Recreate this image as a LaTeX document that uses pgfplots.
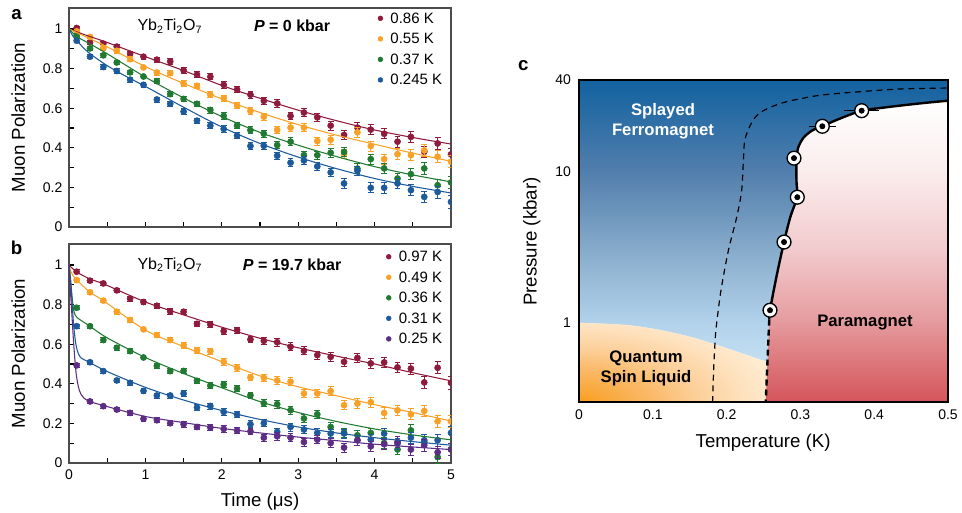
\documentclass[border=0pt]{standalone}
\usepackage{fontspec}
\setmainfont{Liberation Sans}
\usepackage{pgfplots}
\usepackage{pgfplotstable}
\pgfplotsset{compat=1.18}

\definecolor{cR}{HTML}{8E1A3C}
\definecolor{cO}{HTML}{F8A126}
\definecolor{cG}{HTML}{217A32}
\definecolor{cB}{HTML}{1D5A9B}
\definecolor{cP}{HTML}{5D2C85}
\definecolor{b0}{HTML}{D2EAF8}
\definecolor{b1}{HTML}{B2D2EB}
\definecolor{b2}{HTML}{87ABCB}
\definecolor{b3}{HTML}{517EAC}
\definecolor{b4}{HTML}{1262A0}
\definecolor{r0}{HTML}{D4555A}
\definecolor{r1}{HTML}{E59B9E}
\definecolor{r2}{HTML}{F2CACD}
\definecolor{r3}{HTML}{FBEDED}
\definecolor{r4}{HTML}{FFFFFF}
\definecolor{q0}{HTML}{F89E18}
\definecolor{q1}{HTML}{F9A83A}
\definecolor{q2}{HTML}{FAB866}
\definecolor{q3}{HTML}{FCCF98}
\definecolor{q4}{HTML}{FEE1BD}
\definecolor{q5}{HTML}{FFEFD8}
\definecolor{q6}{HTML}{FFF8EC}
\pgfdeclareradialshading{qsl}{\pgfpointorigin}{color(0bp)=(q0); color(2.5bp)=(q1); color(6.75bp)=(q2); color(11.25bp)=(q3); color(15.75bp)=(q4); color(20.5bp)=(q5); color(25bp)=(q6); color(50bp)=(q6)}

\pgfplotstableread{
t r o g b e
0.100 1.005 0.988 0.966 0.941 0.010
0.275 0.933 0.960 0.902 0.860 0.010
0.450 0.926 0.904 0.867 0.808 0.011
0.625 0.911 0.890 0.831 0.788 0.011
0.800 0.874 0.848 0.781 0.744 0.012
0.975 0.860 0.806 0.760 0.718 0.012
1.150 0.845 0.780 0.737 0.644 0.013
1.325 0.836 0.777 0.671 0.622 0.013
1.500 0.791 0.725 0.647 0.583 0.014
1.675 0.770 0.713 0.622 0.537 0.014
1.850 0.759 0.668 0.591 0.512 0.015
2.025 0.718 0.651 0.561 0.495 0.016
2.200 0.694 0.613 0.512 0.461 0.016
2.375 0.668 0.586 0.489 0.409 0.017
2.550 0.637 0.557 0.471 0.410 0.018
2.725 0.624 0.490 0.414 0.360 0.019
2.900 0.561 0.502 0.431 0.325 0.020
3.075 0.578 0.502 0.363 0.336 0.020
3.250 0.554 0.434 0.363 0.306 0.021
3.425 0.512 0.441 0.375 0.276 0.022
3.600 0.465 0.368 0.379 0.220 0.023
3.775 0.502 0.478 0.295 0.284 0.024
3.950 0.492 0.409 0.343 0.198 0.025
4.125 0.471 0.343 0.296 0.198 0.026
4.300 0.431 0.368 0.245 0.220 0.027
4.475 0.455 0.363 0.267 0.186 0.028
4.650 0.380 0.387 0.296 0.152 0.029
4.825 0.422 0.355 0.211 0.177 0.030
5.000 0.367 0.330 0.225 0.127 0.031
}\tabA

\pgfplotstableread{
t r o g b p e
0.100 0.966 0.924 0.784 0.691 0.493 0.010
0.275 0.921 0.862 0.691 0.509 0.311 0.010
0.450 0.907 0.820 0.621 0.464 0.287 0.011
0.625 0.872 0.764 0.582 0.417 0.270 0.011
0.800 0.830 0.722 0.565 0.405 0.253 0.012
0.975 0.813 0.675 0.533 0.364 0.223 0.012
1.150 0.794 0.646 0.491 0.341 0.216 0.013
1.325 0.766 0.621 0.464 0.341 0.201 0.013
1.500 0.764 0.594 0.465 0.351 0.196 0.014
1.675 0.703 0.569 0.415 0.280 0.182 0.014
1.850 0.700 0.565 0.391 0.288 0.179 0.015
2.025 0.666 0.511 0.397 0.258 0.172 0.016
2.200 0.671 0.481 0.376 0.245 0.164 0.016
2.375 0.624 0.432 0.342 0.196 0.160 0.017
2.550 0.617 0.430 0.302 0.201 0.128 0.018
2.725 0.610 0.417 0.297 0.157 0.135 0.019
2.900 0.587 0.411 0.267 0.182 0.128 0.020
3.075 0.567 0.351 0.225 0.169 0.106 0.020
3.250 0.545 0.351 0.246 0.152 0.118 0.021
3.425 0.536 0.363 0.182 0.149 0.101 0.022
3.600 0.511 0.292 0.154 0.149 0.078 0.023
3.775 0.531 0.300 0.140 0.115 0.115 0.024
3.950 0.503 0.307 0.152 0.118 0.084 0.025
4.125 0.508 0.253 0.101 0.149 0.095 0.026
4.300 0.483 0.266 0.068 0.098 0.106 0.027
4.475 0.477 0.246 0.165 0.128 0.068 0.028
4.650 0.407 0.263 0.106 0.115 0.090 0.029
4.825 0.481 0.211 0.030 0.115 0.054 0.030
5.000 0.405 0.210 0.070 0.152 0.068 0.031
}\tabB

\pgfplotstableread{
T P Te
0.2588 1.21 0.0055
0.2778 3.41 0.0055
0.2958 6.74 0.0055
0.2913 12.2 0.0055
0.3297 19.8 0.0147
0.3830 25.1 0.020
}\tabC

\pgfplotsset{
  muon/.style={anchor=south west, width=286.5pt, height=164.25pt, scale only axis,
    xmin=0, xmax=5, ymin=0, ymax=1.106,
    xtick={0,1,2,3,4,5}, minor xtick={0.5,1.5,2.5,3.5,4.5},
    ytick={0,0.2,0.4,0.6,0.8,1}, minor ytick={0.1,0.3,0.5,0.7,0.9},
    tick align=inside, xtick pos=bottom, ytick pos=left,
    major tick length=4pt, minor tick length=4pt,
    axis line style={draw=black!70, line width=1.1pt},
    tick style={black, line width=0.8pt},
    clip marker paths=true,
    /pgf/number format/assume math mode=true,
    tick label style={font=\fontsize{10.5}{12}\selectfont},
    yticklabel style={xshift=-1.5pt},
    xticklabel style={yshift=-1.5pt},
    label style={font=\fontsize{14}{16}\selectfont},
    ylabel style={at={(axis description cs:-0.133,0.5)}, anchor=center},
    legend style={draw=none, fill=none, inner sep=0pt, outer sep=0pt,
      font=\fontsize{11.25}{13}\selectfont, row sep=3.2pt,
      nodes={inner sep=1.5pt, text height=8.2pt, text depth=1pt},
      legend cell align=left},
  },
  pts/.style={only marks, mark=*, mark size=2.3pt, forget plot,
    error bars/y dir=both, error bars/y explicit,
    error bars/error bar style={line width=0.6pt},
    error bars/error mark options={rotate=90, mark size=2.2pt, line width=0.6pt}},
  fitl/.style={line width=0.8pt, smooth, no markers, forget plot},
  legdot/.style={only marks, mark=*, mark size=1.8pt,
    legend image code/.code={\draw[##1] plot coordinates {(0pt,0pt)}; \path[draw=none, fill=none] (-2pt,0pt) rectangle (6pt,0.1pt);}},
}

\begin{document}
\begin{tikzpicture}
\useasboundingbox (0,0) rectangle (721.5pt,-384pt);

% ---------------- panel a ----------------
\begin{axis}[muon, at={(51.75pt,-170.25pt)}, xticklabels={},
  ylabel={Muon Polarization},
  legend style={at={(0.982,0.99)}, anchor=north east}]
\addplot[color=cR, pts] table[x=t, y=r, y error=e] {\tabA};
\addplot[color=cO, pts] table[x=t, y=o, y error=e] {\tabA};
\addplot[color=cG, pts] table[x=t, y=g, y error=e] {\tabA};
\addplot[color=cB, pts] table[x=t, y=b, y error=e] {\tabA};
\addplot[color=cR, fitl] coordinates {(0,1)(0.25,0.965)(0.5,0.932)(1,0.86)(1.5,0.79)(2,0.715)(2.5,0.65)(3,0.59)(3.5,0.537)(4,0.49)(4.5,0.452)(5,0.419)};
\addplot[color=cO, fitl] coordinates {(0,1)(0.25,0.955)(0.5,0.91)(1,0.81)(1.5,0.725)(2,0.647)(2.5,0.578)(3,0.517)(3.5,0.464)(4,0.418)(4.5,0.373)(5,0.332)};
\addplot[color=cG, fitl] coordinates {(0,1)(0.1,0.962)(0.25,0.93)(0.5,0.875)(1,0.757)(1.5,0.652)(2,0.558)(2.5,0.478)(3,0.413)(3.5,0.356)(4,0.305)(4.5,0.263)(5,0.228)};
\addplot[color=cB, fitl] coordinates {(0,1)(0.05,0.965)(0.1,0.942)(0.25,0.883)(0.5,0.815)(0.75,0.76)(1,0.71)(1.5,0.605)(2,0.505)(2.5,0.422)(3,0.353)(3.5,0.295)(4,0.245)(4.5,0.205)(5,0.172)};
\addlegendimage{legdot, color=cR}\addlegendentry{0.86 K}
\addlegendimage{legdot, color=cO}\addlegendentry{0.55 K}
\addlegendimage{legdot, color=cG}\addlegendentry{0.37 K}
\addlegendimage{legdot, color=cB}\addlegendentry{0.245 K}
\node[font=\fontsize{12}{14}\selectfont] at (axis cs:1.32,1.014) {Yb\textsubscript{2}Ti\textsubscript{2}O\textsubscript{7}};
\node[font=\bfseries\fontsize{12}{14}\selectfont] at (axis cs:2.92,1.014) {\textit{P} = 0 kbar};
\end{axis}

% ---------------- panel b ----------------
\begin{axis}[muon, at={(51.75pt,-347.25pt)},
  ylabel={Muon Polarization}, xlabel={Time (μs)},
  xlabel style={at={(axis description cs:0.5,-0.177)}, anchor=center},
  legend style={at={(0.982,0.979)}, anchor=north east}]
\addplot[color=cR, pts] table[x=t, y=r, y error=e] {\tabB};
\addplot[color=cO, pts] table[x=t, y=o, y error=e] {\tabB};
\addplot[color=cG, pts] table[x=t, y=g, y error=e] {\tabB};
\addplot[color=cB, pts] table[x=t, y=b, y error=e] {\tabB};
\addplot[color=cP, pts] table[x=t, y=p, y error=e] {\tabB};
\addplot[color=cR, fitl] coordinates {(0,1)(0.1,0.965)(0.275,0.929)(0.45,0.905)(1,0.813)(1.5,0.748)(2,0.686)(2.5,0.63)(3,0.582)(3.5,0.54)(4,0.5)(4.5,0.456)(5,0.415)};
\addplot[color=cO, fitl] coordinates {(0,1)(0.02,0.97)(0.05,0.948)(0.1,0.925)(0.275,0.862)(0.45,0.82)(1,0.671)(1.5,0.588)(2,0.512)(2.5,0.44)(3,0.385)(3.5,0.34)(4,0.295)(4.5,0.255)(5,0.212)};
\addplot[color=cG, fitl] coordinates {(0,1)(0.02,0.935)(0.04,0.84)(0.06,0.775)(0.08,0.748)(0.1,0.737)(0.15,0.722)(0.25,0.697)(0.5,0.632)(1,0.533)(1.5,0.452)(2,0.38)(2.5,0.31)(3,0.255)(3.5,0.21)(4,0.172)(4.5,0.142)(5,0.117)};
\addplot[color=cB, fitl] coordinates {(0,1)(0.03,0.87)(0.06,0.70)(0.09,0.6)(0.12,0.555)(0.16,0.53)(0.25,0.512)(0.5,0.462)(1,0.382)(1.5,0.318)(2,0.265)(2.5,0.22)(3,0.182)(3.5,0.152)(4,0.128)(4.5,0.108)(5,0.09)};
\addplot[color=cP, fitl] coordinates {(0,1)(0.01,0.92)(0.03,0.8)(0.06,0.61)(0.09,0.465)(0.12,0.39)(0.16,0.345)(0.25,0.314)(0.5,0.285)(1,0.235)(1.5,0.204)(2,0.175)(2.5,0.152)(3,0.131)(3.5,0.113)(4,0.095)(4.5,0.081)(5,0.068)};
\addlegendimage{legdot, color=cR}\addlegendentry{0.97 K}
\addlegendimage{legdot, color=cO}\addlegendentry{0.49 K}
\addlegendimage{legdot, color=cG}\addlegendentry{0.36 K}
\addlegendimage{legdot, color=cB}\addlegendentry{0.31 K}
\addlegendimage{legdot, color=cP}\addlegendentry{0.25 K}
\node[font=\fontsize{12}{14}\selectfont] at (axis cs:1.32,1.0) {Yb\textsubscript{2}Ti\textsubscript{2}O\textsubscript{7}};
\node[font=\bfseries\fontsize{12}{14}\selectfont] at (axis cs:2.92,1.0) {\textit{P} = 19.7 kbar};
\end{axis}

% ---------------- panel c ----------------
\begin{axis}[at={(434.25pt,-301.5pt)}, anchor=south west, width=276.75pt, height=241.5pt, scale only axis,
  xmin=0, xmax=0.5, ymode=log, ymin=0.3, ymax=40,
  xtick={0,0.1,0.2,0.3,0.4,0.5}, xticklabels={0,0.1,0.2,0.3,0.4,0.5},
  ytick={1,10,40}, yticklabels={1,10,40},
  major tick length=0pt, minor tick length=0pt,
  axis on top, axis line style={line width=1.4pt, black},
  tick label style={font=\fontsize{10.5}{12}\selectfont},
  xticklabel style={yshift=-2pt}, yticklabel style={xshift=-2.5pt},
  label style={font=\fontsize{14}{16}\selectfont},
  xlabel={Temperature (K)}, ylabel={Pressure (kbar)},
  xlabel style={at={(axis description cs:0.499,-0.127)}, anchor=center},
  ylabel style={at={(axis description cs:-0.128,0.498)}, anchor=center},
  clip marker paths=false]
% splayed ferromagnet (blue)
\shade[bottom color=b0, top color=b1] (axis cs:0,0.3) rectangle (axis cs:0.5,1.03);
\shade[bottom color=b1, top color=b2] (axis cs:0,1) rectangle (axis cs:0.5,3.05);
\shade[bottom color=b2, top color=b3] (axis cs:0,3) rectangle (axis cs:0.5,10.1);
\shade[bottom color=b3, top color=b4] (axis cs:0,10) rectangle (axis cs:0.5,40);
% quantum spin liquid
\begin{scope}
\clip (axis cs:0,0.3) -- plot[smooth] coordinates {(axis cs:0,1.0) (axis cs:0.0646,0.966) (axis cs:0.11,0.895) (axis cs:0.155,0.797) (axis cs:0.2,0.679) (axis cs:0.2545,0.552) (axis cs:0.27,0.52)} -- (axis cs:0.27,0.3) -- cycle;
\fill[q6] (axis cs:0,0.3) rectangle (axis cs:0.3,1.1);
\shade[shading=qsl] (axis cs:0,0.3) ellipse [x radius=195pt, y radius=88pt];
\end{scope}
% paramagnet
\begin{scope}
\clip plot[smooth] coordinates {(axis cs:0.5,29.2) (axis cs:0.47,28.3) (axis cs:0.435,27.1) (axis cs:0.41,26.2) (axis cs:0.383,25.1) (axis cs:0.357,22.6) (axis cs:0.33,19.9) (axis cs:0.3153,18.5) (axis cs:0.304,16.6) (axis cs:0.2972,14.4) (axis cs:0.2948,12.3) (axis cs:0.2945,10) (axis cs:0.2948,8.3) (axis cs:0.2955,6.74) (axis cs:0.2863,4.98) (axis cs:0.2778,3.41) (axis cs:0.2674,2.0) (axis cs:0.2588,1.21) (axis cs:0.2578,1.05)} -- (axis cs:0.253,0.3) -- (axis cs:0.5,0.3) -- cycle;
\shade[bottom color=r0, top color=r1] (axis cs:0.2,0.3) rectangle (axis cs:0.5,1.03);
\shade[bottom color=r1, top color=r2] (axis cs:0.2,1) rectangle (axis cs:0.5,3.05);
\shade[bottom color=r2, top color=r3] (axis cs:0.2,3) rectangle (axis cs:0.5,10.1);
\shade[bottom color=r3, top color=r4] (axis cs:0.2,10) rectangle (axis cs:0.5,30);
\end{scope}
% boundaries
\addplot[black, line width=1.8pt, smooth] coordinates {(0.5,29.2)(0.47,28.3)(0.435,27.1)(0.41,26.2)(0.383,25.1)(0.357,22.6)(0.33,19.9)(0.3153,18.5)(0.304,16.6)(0.2972,14.4)(0.2948,12.3)(0.2945,10)(0.2948,8.3)(0.2955,6.74)(0.2863,4.98)(0.2778,3.41)(0.2674,2.0)(0.2588,1.21)(0.2578,1.05)};
\addplot[black, line width=1.8pt, dash pattern=on 4.5pt off 3pt] coordinates {(0.2578,1.05)(0.253,0.3)};
\addplot[black, line width=0.9pt, dash pattern=on 4.5pt off 3.5pt, smooth] coordinates {(0.181,0.3)(0.1825,0.5)(0.1847,0.8)(0.1866,1.0)(0.1924,1.64)(0.2024,3.0)(0.2137,4.98)(0.2204,7.47)(0.2227,11.7)(0.2245,15.9)(0.2308,19.5)(0.2385,22.6)(0.2498,25.1)(0.277,28.4)(0.322,31.5)(0.367,33.1)(0.435,34.9)(0.5,35.4)};
% transition points
\addplot[only marks, mark=*, mark size=5.2pt, mark options={fill=white, draw=black, line width=1pt}] table[x=T, y=P] {\tabC};
\addplot[only marks, mark=none, error bars/x dir=both, error bars/x explicit,
  error bars/error bar style={draw=black, line width=0.75pt},
  error bars/error mark options={mark size=2pt, line width=0.75pt, draw=black}] table[x=T, y=P, x error=Te] {\tabC};
\node[font=\bfseries\fontsize{12.5}{15.2}\selectfont, text=white, align=center] at (axis cs:0.1138,21.3) {Splayed\\Ferromagnet};
\node[font=\bfseries\fontsize{12.5}{15}\selectfont, align=center] at (axis cs:0.0908,0.501) {Quantum\\Spin Liquid};
\node[font=\bfseries\fontsize{12.5}{15}\selectfont] at (axis cs:0.3875,1.0) {Paramagnet};
\end{axis}

% panel letters
\node[font=\bfseries\fontsize{14}{16}\selectfont] at (12.5pt,-11.25pt) {a};
\node[font=\bfseries\fontsize{14}{16}\selectfont] at (12.5pt,-186pt) {b};
\node[font=\bfseries\fontsize{14}{16}\selectfont] at (392.5pt,-49.5pt) {c};
\end{tikzpicture}
\end{document}
